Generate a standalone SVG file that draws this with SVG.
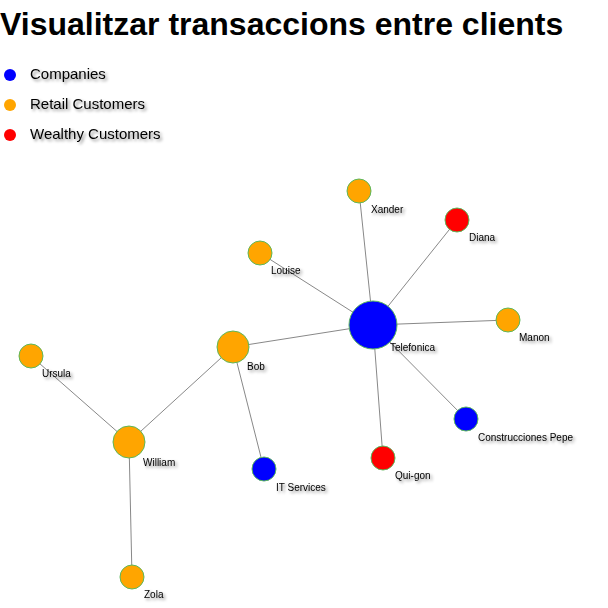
<svg xmlns="http://www.w3.org/2000/svg" width="608" height="608" viewBox="0 0 608 608">
<defs>
<filter id="sh" x="-20%" y="-50%" width="150%" height="220%">
<feDropShadow dx="2" dy="2" stdDeviation="1.5" flood-color="#000" flood-opacity="0.45"/>
</filter>
<style>
.title{font-family:"Liberation Sans",Arial,sans-serif;font-weight:bold;font-size:32px;fill:#000}
.leg{font-family:"Liberation Sans",Arial,sans-serif;font-size:15px;fill:#000;filter:url(#sh)}
.lbl{font-family:"Liberation Sans",Arial,sans-serif;font-size:10px;fill:#000;filter:url(#sh)}
.edge{stroke:#888;stroke-width:1}
.node{stroke:#5cb85c;stroke-width:1}
.co{fill:#0000ff}.re{fill:#ffa500}.we{fill:#ff0000}
</style>
</defs>
<rect width="608" height="608" fill="#fff"/>
<text class="title" x="0" y="35">Visualitzar transaccions entre clients</text>
<g id="legend">
<circle class="co" cx="10" cy="75" r="6"/><text class="leg" x="30" y="79">Companies</text>
<circle class="re" cx="10" cy="105" r="6"/><text class="leg" x="30" y="109">Retail Customers</text>
<circle class="we" cx="10" cy="135" r="6"/><text class="leg" x="30" y="139">Wealthy Customers</text>
</g>
<g id="edges">
<line class="edge" x1="373" y1="325" x2="359" y2="191"/>
<line class="edge" x1="373" y1="325" x2="457" y2="220"/>
<line class="edge" x1="373" y1="325" x2="260" y2="253"/>
<line class="edge" x1="373" y1="325" x2="508" y2="320"/>
<line class="edge" x1="373" y1="325" x2="466" y2="419"/>
<line class="edge" x1="373" y1="325" x2="383" y2="458"/>
<line class="edge" x1="373" y1="325" x2="233" y2="347"/>
<line class="edge" x1="233" y1="347" x2="264" y2="469"/>
<line class="edge" x1="233" y1="347" x2="129" y2="442"/>
<line class="edge" x1="129" y1="442" x2="31" y2="356"/>
<line class="edge" x1="129" y1="442" x2="132" y2="577"/>
</g>
<g id="n-telefonica"><circle class="node co" cx="373" cy="325" r="24"/><text class="lbl" x="390" y="351">Telefonica</text></g>
<g id="n-xander"><circle class="node re" cx="359" cy="191" r="12"/><text class="lbl" x="371" y="213">Xander</text></g>
<g id="n-diana"><circle class="node we" cx="457" cy="220" r="12"/><text class="lbl" x="469" y="241">Diana</text></g>
<g id="n-louise"><circle class="node re" cx="260" cy="253" r="12"/><text class="lbl" x="271" y="274">Louise</text></g>
<g id="n-manon"><circle class="node re" cx="508" cy="320" r="12"/><text class="lbl" x="519" y="341">Manon</text></g>
<g id="n-construcciones"><circle class="node co" cx="466" cy="419" r="12"/><text class="lbl" x="478" y="441">Construcciones Pepe</text></g>
<g id="n-quigon"><circle class="node we" cx="383" cy="458" r="12"/><text class="lbl" x="395" y="479">Qui-gon</text></g>
<g id="n-itservices"><circle class="node co" cx="264" cy="469" r="12"/><text class="lbl" x="276" y="491">IT Services</text></g>
<g id="n-bob"><circle class="node re" cx="233" cy="347" r="16"/><text class="lbl" x="247" y="370">Bob</text></g>
<g id="n-ursula"><circle class="node re" cx="31" cy="356" r="12"/><text class="lbl" x="42" y="377">Ursula</text></g>
<g id="n-william"><circle class="node re" cx="129" cy="442" r="16"/><text class="lbl" x="143" y="466">William</text></g>
<g id="n-zola"><circle class="node re" cx="132" cy="577" r="12"/><text class="lbl" x="144" y="598">Zola</text></g>
</svg>
